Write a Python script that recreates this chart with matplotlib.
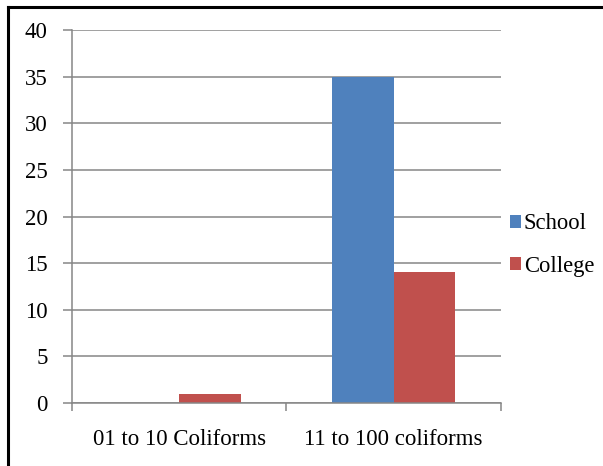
import numpy as np
import matplotlib.pyplot as plt
from matplotlib.lines import Line2D

# Coliform counts per sample group
categories = ['01 to 10 Coliforms', '11 to 100 coliforms']
school = [0, 35]
college = [1, 14]
series_names = ['School', 'College']

plt.rcParams['font.family'] = ['Liberation Serif', 'DejaVu Serif']

fig = plt.figure(figsize=(6.03, 4.66), dpi=100)
ax = fig.add_axes([0.1194, 0.1352, 0.7114, 0.8004])

x = np.arange(len(categories))
w = 0.2857
grid_c = '#868686'
ax.bar(x - w / 2, school, width=w, color='#4F81BD', label=series_names[0], zorder=3)
ax.bar(x + w / 2, college, width=w, color='#C0504D', label=series_names[1], zorder=3)

ax.set_xlim(-0.5, len(categories) - 0.5)
ax.set_ylim(0, 40)
ax.set_yticks(range(0, 41, 5))
ax.yaxis.grid(True, color=grid_c, linewidth=1.1, zorder=0)

# category boundaries get the tick marks, centres get the labels
ax.set_xticks(np.arange(-0.5, len(categories), 1.0))
ax.set_xticklabels([])
ax.set_xticks(x, minor=True)
ax.set_xticklabels(categories, minor=True)
ax.tick_params(axis='x', which='major', length=6, width=1.1, color=grid_c, direction='out')
ax.tick_params(axis='x', which='minor', length=0, pad=19, labelsize=16.5)
ax.tick_params(axis='y', length=6.5, width=1.1, color=grid_c, pad=11, labelsize=16.5)

for side in ['top', 'right']:
    ax.spines[side].set_visible(False)
for side in ['left', 'bottom']:
    ax.spines[side].set_color(grid_c)
    ax.spines[side].set_linewidth(1.1)
    ax.spines[side].set_zorder(4)

ax.legend(loc='center left', bbox_to_anchor=(0.846, 0.474), bbox_transform=fig.transFigure,
          frameon=False, fontsize=16.3, handlelength=0.5, handleheight=0.5,
          handletextpad=0.1, labelspacing=0.95, borderpad=0, borderaxespad=0)

# outer frame of the chart area
fig.add_artist(Line2D([0.0125, 0.0125], [0, 0.985], transform=fig.transFigure,
                      color='black', linewidth=2.2))
fig.add_artist(Line2D([0.0125, 1], [0.985, 0.985], transform=fig.transFigure,
                      color='black', linewidth=2.2))

fig.savefig('out.png', dpi=100)
